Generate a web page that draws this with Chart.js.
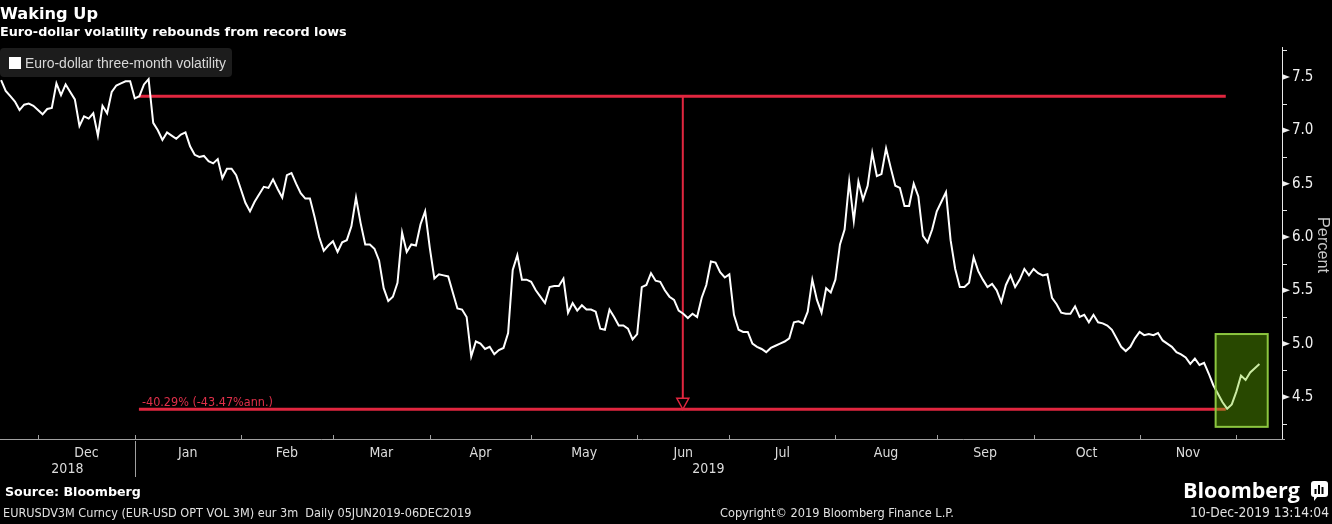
<!DOCTYPE html>
<html><head><meta charset="utf-8">
<script src="https://cdn.jsdelivr.net/npm/chart.js@4"></script>
<style>html,body{margin:0;padding:0;background:#000;}canvas{display:block}</style>
</head><body>
<canvas id="c" width="1332" height="524"></canvas>
<script>
// ---------- data ----------
const startDate = '2018-11-21';
const seriesLabel = 'Euro-dollar three-month volatility';
const values = [
 7.47,7.37,7.32,7.27,7.19,7.24,7.25,7.23,7.19,7.15,
 7.20,7.21,7.44,7.33,7.43,7.36,7.29,7.04,7.13,7.11,
 7.16,6.95,7.23,7.16,7.36,7.42,7.44,7.46,7.46,7.30,
 7.32,7.43,7.48,7.07,7.00,6.91,6.98,6.95,6.92,6.96,
 6.98,6.85,6.77,6.75,6.76,6.71,6.69,6.73,6.55,6.64,
 6.64,6.58,6.45,6.32,6.24,6.33,6.40,6.47,6.46,6.54,
 6.45,6.37,6.58,6.60,6.50,6.41,6.36,6.36,6.19,6.00,
 5.87,5.92,5.96,5.86,5.95,5.97,6.10,6.37,6.13,5.93,
 5.93,5.89,5.78,5.52,5.40,5.44,5.57,6.04,5.86,5.93,
 5.92,6.12,6.24,5.90,5.61,5.65,5.64,5.63,5.48,5.33,
 5.32,5.25,4.88,5.02,5.00,4.95,4.97,4.90,4.94,4.96,
 5.10,5.69,5.83,5.60,5.60,5.58,5.50,5.44,5.38,5.53,
 5.54,5.54,5.61,5.29,5.38,5.31,5.36,5.32,5.32,5.30,
 5.14,5.13,5.32,5.25,5.17,5.17,5.14,5.04,5.09,5.53,
 5.55,5.66,5.59,5.58,5.50,5.44,5.41,5.31,5.28,5.24,
 5.28,5.25,5.43,5.55,5.77,5.76,5.67,5.62,5.65,5.27,
 5.13,5.11,5.11,5.00,4.97,4.95,4.92,4.96,4.98,5.00,
 5.02,5.05,5.20,5.21,5.19,5.30,5.60,5.41,5.29,5.52,
 5.48,5.60,5.93,6.07,6.52,6.15,6.52,6.35,6.48,6.79,
 6.57,6.59,6.83,6.65,6.48,6.46,6.29,6.29,6.50,6.38,
 6.01,5.95,6.07,6.24,6.33,6.42,5.97,5.70,5.53,5.53,
 5.57,5.81,5.68,5.60,5.53,5.56,5.50,5.39,5.55,5.64,
 5.53,5.60,5.70,5.64,5.70,5.66,5.64,5.65,5.43,5.37,
 5.29,5.28,5.28,5.35,5.25,5.27,5.20,5.27,5.20,5.19,
 5.17,5.13,5.05,4.97,4.93,4.97,5.05,5.11,5.08,5.09,
 5.08,5.10,5.03,5.00,4.97,4.92,4.90,4.87,4.81,4.86,
 4.80,4.82,4.72,4.61,4.53,4.45,4.39,4.43,4.55,4.70,
 4.66,4.73,4.77,4.81
];
const monthNames = ['Jan','Feb','Mar','Apr','May','Jun','Jul','Aug','Sep','Oct','Nov','Dec'];
const yTickValues = [4.5,5.0,5.5,6.0,6.5,7.0,7.5];
const yMinorTicks = [4.25,4.75,5.25,5.75,6.25,6.75,7.25,7.75];
const highLevel = 7.32;
const lowLevel = 4.385;
const rangeIdx = [29.9, 265.7];
const arrowIdx = 147.9;
const changeText = '-40.29% (-43.47%ann.)';
const boxIdx = [263.5, 274.8];
const boxVal = [4.22, 5.09];
const titleText = 'Waking Up';
const subtitleText = 'Euro-dollar volatility rebounds from record lows';
const sourceText = 'Source: Bloomberg';
const tickerText = 'EURUSDV3M Curncy (EUR-USD OPT VOL 3M) eur 3m  Daily 05JUN2019-06DEC2019';
const copyrightText = 'Copyright\u00A9 2019 Bloomberg Finance L.P.';
const stampText = '10-Dec-2019 13:14:04';
const yTitle = 'Percent';

// ---------- helpers ----------
function businessDays(start, n){
  const out=[]; const d=new Date(start+'T00:00:00Z');
  while(out.length<n){const w=d.getUTCDay(); if(w!==0&&w!==6) out.push(new Date(d)); d.setUTCDate(d.getUTCDate()+1);}
  return out;
}
const dates = businessDays(startDate, values.length);
const monthStarts = []; const yearStarts = [];
for(let i=1;i<dates.length;i++){
  if(dates[i].getUTCMonth()!==dates[i-1].getUTCMonth()) monthStarts.push(i);
  if(dates[i].getUTCFullYear()!==dates[i-1].getUTCFullYear()) yearStarts.push(i);
}
const NARROW = "'Liberation Sans Narrow','DejaVu Sans Condensed','Liberation Sans',sans-serif";
const WIDE = "'DejaVu Sans','Verdana',sans-serif";
function fitText(c, text, x, y, width, weight, family, align){
  c.font = `${weight} 20px ${family}`;
  const w = c.measureText(text).width;
  const size = 20*width/w;
  c.font = `${weight} ${size.toFixed(2)}px ${family}`;
  c.textAlign = align||'left';
  c.fillText(text, x, y);
}
const XMIN=-0.24, XMAX=277.9;

const decor = {
  id:'decor',
  beforeDraw(chart){
    const c=chart.ctx; c.save(); c.fillStyle='#000'; c.fillRect(0,0,chart.width,chart.height); c.restore();
  },
  afterDatasetsDraw(chart){
    const c=chart.ctx, xs=chart.scales.x, ys=chart.scales.y;
    c.save();
    // green highlight box
    const bx0=xs.getPixelForValue(boxIdx[0]), bx1=xs.getPixelForValue(boxIdx[1]);
    const by0=ys.getPixelForValue(boxVal[1]), by1=ys.getPixelForValue(boxVal[0]);
    c.fillStyle='rgba(110,200,0,0.36)';
    c.fillRect(bx0,by0,bx1-bx0,by1-by0);
    c.strokeStyle='#8cc63f'; c.lineWidth=2;
    c.strokeRect(bx0,by0,bx1-bx0,by1-by0);
    // arrow head
    const ax=xs.getPixelForValue(arrowIdx), ay=ys.getPixelForValue(lowLevel);
    c.beginPath(); c.moveTo(ax-6,ay-11); c.lineTo(ax+6,ay-11); c.lineTo(ax,ay); c.closePath();
    c.fillStyle='#000'; c.fill(); c.strokeStyle='#e0263f'; c.lineWidth=1.5; c.stroke();
    // annotation
    c.fillStyle='#e0304a'; c.textBaseline='alphabetic';
    fitText(c, changeText, xs.getPixelForValue(rangeIdx[0])+3, ay-3, 131, 'normal', NARROW, 'left');
    c.restore();
  },
  afterDraw(chart){
    const c=chart.ctx, xs=chart.scales.x, ys=chart.scales.y, a=chart.chartArea;
    c.save();
    c.textBaseline='alphabetic';
    // axes lines
    c.strokeStyle='#a0a0a0'; c.lineWidth=1;
    c.beginPath(); c.moveTo(0,a.bottom+0.5); c.lineTo(a.right+3,a.bottom+0.5); c.stroke();
    c.strokeStyle='#e8e8e8';
    c.beginPath(); c.moveTo(a.right+0.5,a.top); c.lineTo(a.right+0.5,a.bottom); c.stroke();
    // y minor ticks
    yMinorTicks.forEach(v=>{const y=Math.round(ys.getPixelForValue(v))+0.5; c.beginPath(); c.moveTo(a.right,y); c.lineTo(a.right+5,y); c.stroke();});
    // y major markers
    c.fillStyle='#f0f0f0';
    yTickValues.forEach(v=>{const y=ys.getPixelForValue(v); c.beginPath(); c.moveTo(a.right,y-3); c.lineTo(a.right,y+3); c.lineTo(a.right+8,y); c.closePath(); c.fill();});
    // y title
    c.save(); c.translate(1322, 245); c.rotate(Math.PI/2);
    c.fillStyle='#c8c8c8'; c.textBaseline='middle';
    fitText(c, yTitle, 0, 0, 56, 'normal', "'Liberation Sans',sans-serif", 'center');
    c.restore();
    // x month ticks & labels
    c.strokeStyle='#a0a0a0';
    monthStarts.forEach(i=>{const x=Math.round(xs.getPixelForValue(i))+0.5; c.beginPath(); c.moveTo(x,a.bottom); c.lineTo(x,a.bottom-4); c.stroke();});
    c.fillStyle='#dcdcdc'; c.textAlign='center';
    c.font = `14px ${NARROW}`;
    for(let k=0;k<monthStarts.length-1;k++){
      const i0=monthStarts[k], i1=monthStarts[k+1];
      const x=(xs.getPixelForValue(i0)+xs.getPixelForValue(i1))/2;
      c.fillText(monthNames[dates[i0].getUTCMonth()], x, 457);
    }
    // year labels
    const yb=[XMIN, ...yearStarts, XMAX];
    for(let k=0;k<yb.length-1;k++){
      const idx = k===0?0:yearStarts[k-1];
      const x=(xs.getPixelForValue(yb[k])+xs.getPixelForValue(yb[k+1]))/2;
      c.fillText(String(dates[idx].getUTCFullYear()), x, 473);
    }
    yearStarts.forEach(i=>{const x=Math.round(xs.getPixelForValue(i))+0.5; c.beginPath(); c.moveTo(x,a.bottom+2); c.lineTo(x,477); c.stroke();});
    // titles
    c.fillStyle='#ffffff';
    fitText(c, titleText, 0, 19, 98, 'bold', WIDE, 'left');
    fitText(c, subtitleText, 0, 36, 347, 'bold', WIDE, 'left');
    // legend
    c.fillStyle='#1c1c1c';
    c.beginPath(); c.roundRect(0,48,232,29,4); c.fill();
    c.fillStyle='#ffffff'; c.fillRect(9,57,12,12);
    c.fillStyle='#d8d8d8';
    fitText(c, seriesLabel, 25, 68, 201, 'normal', "'Liberation Sans',sans-serif", 'left');
    // footer
    c.fillStyle='#ffffff';
    fitText(c, sourceText, 5, 496, 136, 'bold', WIDE, 'left');
    c.fillStyle='#e0e0e0';
    fitText(c, tickerText, 3, 517, 469, 'normal', NARROW, 'left');
    fitText(c, copyrightText, 720, 517, 234, 'normal', NARROW, 'left');
    fitText(c, stampText, 1329, 517, 139, 'normal', NARROW, 'right');
    // logo
    c.fillStyle='#ffffff';
    fitText(c, 'Bloomberg', 1183, 498, 117, 'bold', "'Open Sans','Liberation Sans',sans-serif", 'left');
    c.beginPath(); c.roundRect(1311,481,17,16,3); c.fill();
    c.beginPath(); c.moveTo(1314,496); c.lineTo(1314,501); c.lineTo(1318,496); c.fill();
    c.fillStyle='#000';
    c.fillRect(1314.5,489,2,5); c.fillRect(1318,485,2,9); c.fillRect(1321.5,487,2,7);
    c.restore();
  }
};

new Chart(document.getElementById('c').getContext('2d'), {
  type:'line',
  data:{datasets:[
    {label:seriesLabel, data:values.map((v,i)=>({x:i,y:v})), borderColor:'#ffffff', borderWidth:2, pointRadius:0, tension:0},
    {label:'high', data:[{x:rangeIdx[0],y:highLevel},{x:rangeIdx[1],y:highLevel}], borderColor:'#e0263f', borderWidth:3, pointRadius:0},
    {label:'low', data:[{x:rangeIdx[0],y:lowLevel},{x:rangeIdx[1],y:lowLevel}], borderColor:'#e0263f', borderWidth:3, pointRadius:0},
    {label:'arrow', data:[{x:arrowIdx,y:highLevel},{x:arrowIdx,y:lowLevel+0.05}], borderColor:'#e0263f', borderWidth:2, pointRadius:0}
  ]},
  options:{
    responsive:false, animation:false, devicePixelRatio:1,
    layout:{padding:{top:47,left:0,right:0,bottom:0}},
    plugins:{legend:{display:false}, tooltip:{enabled:false}},
    scales:{
      x:{type:'linear', min:XMIN, max:XMAX, grid:{display:false}, border:{display:false}, ticks:{display:false},
         afterFit(s){s.height=85;}},
      y:{position:'right', min:4.106, max:7.781, grid:{display:false, drawTicks:false}, border:{display:false},
         afterBuildTicks(s){s.ticks=yTickValues.map(v=>({value:v}));},
         ticks:{color:'#f0f0f0', padding:10, font:{family:NARROW, size:15}, callback:v=>Number(v).toFixed(1)},
         afterFit(s){s.width=50;}}
    }
  },
  plugins:[decor]
});
</script>
</body></html>
